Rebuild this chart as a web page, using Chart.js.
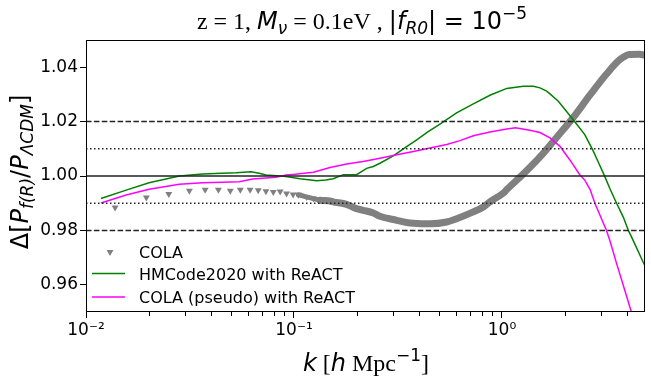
<!DOCTYPE html>
<html><head><meta charset="utf-8">
<script src="https://cdn.jsdelivr.net/npm/chart.js@4.4.0/dist/chart.umd.min.js"></script>
<style>html,body{margin:0;padding:0;background:#fff}canvas{display:block}</style>
</head><body>
<canvas id="c" width="651" height="382"></canvas>
<script>
// ---- data ----
const colaK = [0.0138,0.0195,0.0250,0.0314,0.0374,0.0433,0.0494,0.0552,0.0615,0.0673,0.0733,0.0795,0.0858,0.0921,0.0990,0.1050,
  0.115,0.124,0.1334,0.149,0.1545,0.179,0.200,0.215,0.2406,0.259,0.312,0.348,0.375,0.451,0.542,0.605,0.728,0.813,0.875,1.014,1.054,1.265,1.523,1.765,1.833,2.2,2.65,3.18,3.69,4.1,4.59,4.87];
const colaV = [0.9884,0.9921,0.9934,0.9946,0.9949,0.9949,0.9946,0.9949,0.9949,0.9948,0.9944,0.9941,0.9943,0.9936,0.9932,0.9931,
  0.9923,0.9917,0.9911,0.9908,0.9905,0.9896,0.9880,0.9874,0.9864,0.9852,0.9837,0.9829,0.9826,0.9824,0.9831,0.9843,0.9868,0.9886,0.9905,0.9937,0.9950,1.0007,1.0070,1.0127,1.0142,1.0215,1.0298,1.0375,1.0428,1.0447,1.0448,1.0444];
const hmK = [0.0118,0.0156,0.0201,0.0281,0.0364,0.0450,0.0526,0.0621,0.0680,0.0733,0.0857,0.0915,0.1069,0.1285,0.1420,0.1545,0.1726,0.200,0.2235,0.2406,0.259,0.300,0.348,0.389,0.440,0.503,0.605,0.728,0.875,1.054,1.265,1.416,1.523,1.64,1.70,1.866,2.2,2.5,2.73,2.92,3.13,3.3,3.56,3.83,4.05,4.2,4.78,4.87];
const hmV = [0.9917,0.9948,0.9975,1.0000,1.0007,1.0010,1.0012,1.0016,1.0010,1.0004,1.0000,0.9998,0.9990,0.9983,0.9985,0.9990,1.0005,1.0005,1.0028,1.0035,1.0047,1.0074,1.0108,1.0133,1.0162,1.0191,1.0232,1.0265,1.0297,1.0322,1.0330,1.0330,1.0324,1.0312,1.0302,1.0275,1.0207,1.0152,1.0096,1.0047,0.9996,0.9954,0.9899,0.9849,0.9800,0.9775,0.9682,0.9670];
const psK = [0.0118,0.0156,0.0201,0.0281,0.0364,0.0450,0.0546,0.0632,0.0819,0.0915,0.1010,0.1240,0.149,0.179,0.215,0.259,0.312,0.375,0.451,0.542,0.628,0.728,0.875,1.054,1.16,1.36,1.523,1.70,1.9,2.12,2.37,2.5,2.65,2.80,3.18,3.3,3.56,3.90,4.2,4.3];
const psV = [0.9901,0.9930,0.9951,0.9970,0.9975,0.9977,0.9979,0.9989,0.9995,1.0004,1.0006,1.0014,1.0031,1.0044,1.0053,1.0065,1.0078,1.0090,1.0103,1.0116,1.0130,1.0148,1.0162,1.0173,1.0177,1.0168,1.0160,1.0140,1.0109,1.0059,1.0004,0.9985,0.9951,0.9899,0.9800,0.9763,0.9677,0.9578,0.9497,0.9470];
const yTicks = [0.96,0.98,1.00,1.02,1.04];
const xMajorTicks = [0.01,0.1,1];
const xTickLabels = ['10\u207B\u00B2','10\u207B\u00B9','10\u2070'];
const xMinorTicks = [0.02,0.03,0.04,0.05,0.06,0.07,0.08,0.09,0.2,0.3,0.4,0.5,0.6,0.7,0.8,0.9,2,3,4];
const refSolid = [1.00];
const refDotted = [0.99,1.01];
const refDashed = [0.98,1.02];
const legendLabels = ['COLA','HMCode2020 with ReACT','COLA (pseudo) with ReACT'];

const SANS = 'DejaVu Sans', SERIF = 'Liberation Serif';
const GRAY = '#808080', GREEN = '#008000', MAGENTA = '#ff00ff';

function rich(ctx, parts, x, y) {
  let w = 0;
  parts.forEach(p => { ctx.font = p[1]; p.w = ctx.measureText(p[0]).width; w += p.w; });
  let cx = x - w / 2;
  parts.forEach(p => { ctx.font = p[1]; ctx.fillText(p[0], cx, y + (p[2] || 0)); cx += p.w; });
}

const deco = {
  id: 'deco',
  afterDatasetsDraw(chart) {
    const ctx = chart.ctx, a = chart.chartArea, ys = chart.scales.y, xs = chart.scales.x;
    ctx.save();
    const hl = (v, dash, col) => {
      const y = ys.getPixelForValue(v);
      ctx.beginPath(); ctx.setLineDash(dash); ctx.strokeStyle = col; ctx.lineWidth = 1.5;
      ctx.moveTo(a.left, y); ctx.lineTo(a.right, y); ctx.stroke();
    };
    refDashed.forEach(v => hl(v, [5.5, 2.4], '#222'));
    refDotted.forEach(v => hl(v, [1.5, 2.5], '#222'));
    refSolid.forEach(v => hl(v, [], '#222'));
    ctx.setLineDash([]);
    // minor ticks
    ctx.strokeStyle = '#000'; ctx.lineWidth = 1;
    xMinorTicks.forEach(v => {
      const x = Math.round(xs.getPixelForValue(v)) + 0.5;
      ctx.beginPath(); ctx.moveTo(x, a.bottom); ctx.lineTo(x, a.bottom + 4); ctx.stroke();
    });
    // frame
    ctx.strokeRect(Math.round(a.left) + 0.5, Math.round(a.top) + 0.5, Math.round(a.right - a.left) - 1, Math.round(a.bottom - a.top) - 1);
    // legend
    ctx.fillStyle = GRAY;
    const tx = 110, ty = 252, r = 4;
    ctx.beginPath();
    ctx.moveTo(tx - r * 0.866, ty - r / 2); ctx.lineTo(tx + r * 0.866, ty - r / 2); ctx.lineTo(tx, ty + r); ctx.closePath(); ctx.fill();
    ctx.lineWidth = 1.5;
    ctx.strokeStyle = GREEN; ctx.beginPath(); ctx.moveTo(92, 273.5); ctx.lineTo(125, 273.5); ctx.stroke();
    ctx.strokeStyle = MAGENTA; ctx.beginPath(); ctx.moveTo(92, 297); ctx.lineTo(125, 297); ctx.stroke();
    ctx.fillStyle = '#000'; ctx.font = `16px ${SANS}`; ctx.textAlign = 'left'; ctx.textBaseline = 'alphabetic';
    ctx.fillText(legendLabels[0], 139, 257.5);
    ctx.fillText(legendLabels[1], 139, 280);
    ctx.fillText(legendLabels[2], 139, 303);
    ctx.restore();
  },
  afterDraw(chart) {
    const ctx = chart.ctx;
    ctx.save();
    ctx.fillStyle = '#000'; ctx.textBaseline = 'alphabetic'; ctx.textAlign = 'left';
    // title
    rich(ctx, [
      ['z = 1, ', `24px ${SERIF}`], ['M', `italic 24px ${SANS}`], ['\u03BD', `italic 17px ${SANS}`, 5],
      [' = 0.1eV , ', `24px ${SERIF}`], ['|', `24px ${SANS}`], ['f', `italic 24px ${SANS}`], ['R0', `italic 17px ${SANS}`, 5],
      ['|', `24px ${SANS}`], [' = 10', `24px ${SANS}`], ['\u22125', `17px ${SANS}`, -10]
    ], 362, 29);
    // x label
    rich(ctx, [
      ['k', `italic 24px ${SANS}`], [' [', `24px ${SERIF}`], ['h', `italic 24px ${SANS}`], [' Mpc', `24px ${SERIF}`],
      ['\u22121', `17px ${SANS}`, -10], [']', `24px ${SERIF}`]
    ], 366, 371);
    // y label
    ctx.translate(28, 172); ctx.rotate(-Math.PI / 2);
    rich(ctx, [
      ['\u0394[', `24px ${SANS}`], ['P', `italic 24px ${SANS}`], ['f(R)', `italic 17px ${SANS}`, 5],
      ['/', `24px ${SANS}`], ['P', `italic 24px ${SANS}`], ['\u039BCDM', `italic 17px ${SANS}`, 5], [']', `24px ${SANS}`]
    ], 0, 0);
    ctx.restore();
  }
};

const pts = (K, V) => K.map((k, i) => ({ x: k, y: V[i] }));
const isMajor = v => xMajorTicks.some(m => Math.abs(m - v) / m < 1e-6);

new Chart(document.getElementById('c'), {
  type: 'scatter',
  data: {
    datasets: [
      { label: legendLabels[0], data: pts(colaK, colaV), order: 2, showLine: true,
        borderColor: GRAY, borderWidth: 7, borderJoinStyle: 'round', borderCapStyle: 'round',
        cubicInterpolationMode: 'monotone',
        segment: {
          borderColor: c => c.p0.parsed.x < 0.104 ? 'rgba(0,0,0,0)' : GRAY,
          borderWidth: c => c.p0.parsed.x < 0.13 ? 5 : 7 },
        pointStyle: 'triangle', rotation: 180,
        pointRadius: c => (c.raw && c.raw.x < 0.16) ? 4 : 0, pointBorderWidth: 0,
        pointBackgroundColor: GRAY, pointBorderColor: GRAY },
      { label: legendLabels[1], data: pts(hmK, hmV), order: 1, showLine: true,
        borderColor: GREEN, borderWidth: 1.5, pointRadius: 0, tension: 0 },
      { label: legendLabels[2], data: pts(psK, psV), order: 0, showLine: true,
        borderColor: MAGENTA, borderWidth: 1.5, pointRadius: 0, tension: 0 }
    ]
  },
  options: {
    responsive: false, animation: false, events: [],
    layout: { padding: { top: 40, right: 6, left: 0, bottom: 0 } },
    plugins: { legend: { display: false }, tooltip: { enabled: false }, title: { display: false } },
    scales: {
      x: { type: 'logarithmic', min: 0.01, max: 4.87,
        afterBuildTicks: s => { s.ticks = xMajorTicks.concat(xMinorTicks).sort((a, b) => a - b).map(v => ({ value: v })); },
        afterFit: s => { s.height = 70; },
        grid: { drawOnChartArea: false, drawTicks: true, tickLength: 6,
          tickColor: c => (c.tick && isMajor(c.tick.value)) ? '#000' : 'rgba(0,0,0,0)' },
        border: { display: false },
        ticks: { autoSkip: false, maxRotation: 0, minRotation: 0, padding: 2, color: '#000',
          font: { family: SANS, size: 17 },
          callback: (v) => { const i = xMajorTicks.findIndex(m => Math.abs(m - v) / m < 1e-6); return i >= 0 ? xTickLabels[i] : ''; } } },
      y: { type: 'linear', min: 0.95, max: 1.05,
        afterBuildTicks: s => { s.ticks = yTicks.map(v => ({ value: v })); },
        afterFit: s => { s.width = 86; },
        grid: { drawOnChartArea: false, drawTicks: true, tickLength: 6, tickColor: '#000' },
        border: { display: false },
        ticks: { padding: 2, color: '#000', font: { family: SANS, size: 17 }, callback: v => v.toFixed(2) } }
    }
  },
  plugins: [deco]
});
</script>
</body></html>
